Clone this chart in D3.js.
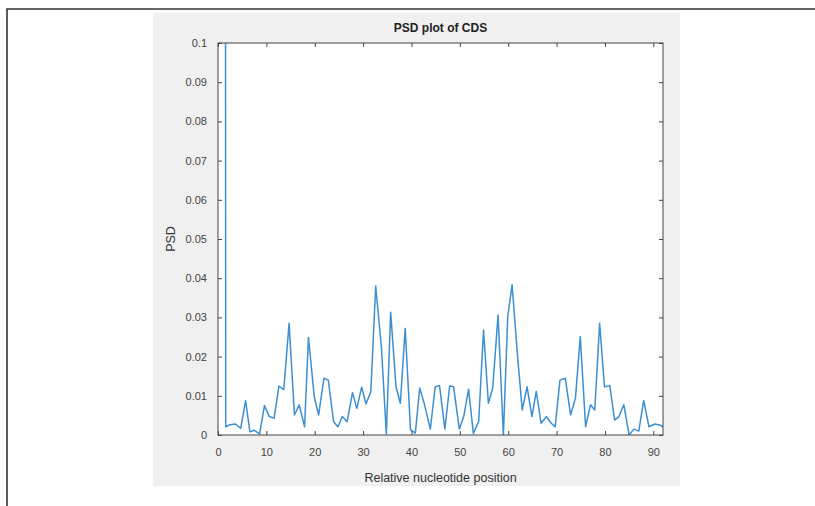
<!DOCTYPE html>
<html>
<head>
<meta charset="utf-8">
<script src="https://cdn.jsdelivr.net/npm/d3@7"></script>
<style>
  body { margin: 0; background: #fff; }
  svg { display: block; font-family: "Liberation Sans", Arial, sans-serif; }
</style>
</head>
<body>
<div id="chart"></div>
<script>
// positions (relative nucleotide position)
const positions = [
  1.4, 1.6, 2.5, 3.6, 4.7, 5.7, 6.6, 7.5, 8.6, 9.6, 10.6, 11.6, 12.6, 13.6, 14.7,
  15.8, 16.8, 17.9, 18.7, 19.9, 20.8, 21.9, 22.8, 23.9, 24.8, 25.7, 26.7, 27.8,
  28.7, 29.7, 30.6, 31.6, 32.6, 33.8, 34.8, 35.7, 36.8, 37.7, 38.7, 39.8, 40.8,
  41.7, 42.6, 43.9, 44.9, 45.8, 46.9, 47.9, 48.7, 49.9, 50.8, 51.8, 52.8, 53.9,
  54.9, 55.9, 56.8, 57.9, 59.0, 59.9, 60.8, 62.0, 62.9, 63.9, 64.9, 65.8, 66.8,
  67.9, 68.9, 69.7, 70.7, 71.8, 72.9, 73.9, 74.9, 76.0, 77.0, 77.9, 78.9, 79.9,
  81.0, 82.0, 82.9, 83.9, 85.0, 86.0, 87.0, 88.0, 89.1, 90.3, 91.5, 92.0
];
// PSD values (first one runs off the top of the axes)
const psd = [
  0.5, 0.0021, 0.0026, 0.0028, 0.0017, 0.0088, 0.0008, 0.0012, 0.0003, 0.0075,
  0.0047, 0.0043, 0.0125, 0.0116, 0.0285, 0.0051, 0.0077, 0.0021, 0.0249, 0.0098,
  0.0051, 0.0145, 0.0140, 0.0034, 0.0021, 0.0047, 0.0034, 0.0108, 0.0068, 0.0122,
  0.0079, 0.0111, 0.0380, 0.0221, 0.0003, 0.0313, 0.0123, 0.0081, 0.0272, 0.0013,
  0.0005, 0.0120, 0.0082, 0.0015, 0.0123, 0.0126, 0.0015, 0.0125, 0.0123, 0.0015,
  0.0047, 0.0117, 0.0004, 0.0035, 0.0268, 0.0081, 0.0120, 0.0306, 0.0000, 0.0302,
  0.0383, 0.0191, 0.0064, 0.0123, 0.0047, 0.0111, 0.0030, 0.0047, 0.0030, 0.0021,
  0.0140, 0.0145, 0.0051, 0.0094, 0.0251, 0.0021, 0.0077, 0.0064, 0.0285, 0.0123,
  0.0126, 0.0038, 0.0047, 0.0077, 0.0000, 0.0015, 0.0010, 0.0088, 0.0021, 0.0028,
  0.0025, 0.0020
];
const xTicks = [0, 10, 20, 30, 40, 50, 60, 70, 80, 90];
const yTicks = [0, 0.01, 0.02, 0.03, 0.04, 0.05, 0.06, 0.07, 0.08, 0.09, 0.1];

const W = 815, H = 506;
const plot = { left: 218, top: 43, right: 663, bottom: 435 };
const axisColor = '#444';

const svg = d3.select('#chart').append('svg')
  .attr('width', W).attr('height', H);

// outer frame lines
svg.append('path')
  .attr('d', 'M7,506 L7,9 L815,9')
  .attr('fill', 'none')
  .attr('stroke', '#333')
  .attr('stroke-width', 1.6);

// figure background
svg.append('rect')
  .attr('x', 153).attr('y', 13)
  .attr('width', 527).attr('height', 473)
  .attr('fill', '#f0f0f0');

// axes background
svg.append('rect')
  .attr('x', plot.left).attr('y', plot.top)
  .attr('width', plot.right - plot.left)
  .attr('height', plot.bottom - plot.top)
  .attr('fill', '#fff');

const x = d3.scaleLinear().domain([0, 92]).range([plot.left, plot.right]);
const y = d3.scaleLinear().domain([0, 0.1]).range([plot.bottom, plot.top]);

svg.append('clipPath').attr('id', 'clip')
  .append('rect')
  .attr('x', plot.left).attr('y', plot.top)
  .attr('width', plot.right - plot.left)
  .attr('height', plot.bottom - plot.top);

const points = positions.map((p, i) => [p, psd[i]]);

svg.append('path')
  .datum(points)
  .attr('clip-path', 'url(#clip)')
  .attr('fill', 'none')
  .attr('stroke', '#3b8fd2')
  .attr('stroke-width', 1.5)
  .attr('stroke-linejoin', 'round')
  .attr('d', d3.line().x(d => x(d[0])).y(d => y(d[1])));

// axes: ticks pointing inwards, box on
const tickLen = 4;
const fmtY = d => d === 0 ? '0' : d3.format('~g')(+d.toFixed(2));

const styleAxis = g => {
  g.select('.domain').remove();
  g.selectAll('.tick line').attr('stroke', axisColor);
  g.selectAll('.tick text')
    .attr('fill', '#444')
    .style('font-size', '11px');
};

svg.append('g')
  .attr('transform', `translate(0,${plot.bottom})`)
  .call(d3.axisBottom(x).tickValues(xTicks).tickSizeInner(-tickLen).tickSizeOuter(0).tickPadding(13))
  .call(styleAxis);

svg.append('g')
  .attr('transform', `translate(0,${plot.top})`)
  .call(d3.axisTop(x).tickValues(xTicks).tickSizeInner(-tickLen).tickSizeOuter(0).tickFormat(''))
  .call(styleAxis);

svg.append('g')
  .attr('transform', `translate(${plot.left},0)`)
  .call(d3.axisLeft(y).tickValues(yTicks).tickSizeInner(-tickLen).tickSizeOuter(0).tickPadding(11).tickFormat(fmtY))
  .call(styleAxis);

svg.append('g')
  .attr('transform', `translate(${plot.right},0)`)
  .call(d3.axisRight(y).tickValues(yTicks).tickSizeInner(-tickLen).tickSizeOuter(0).tickFormat(''))
  .call(styleAxis);

// box
svg.append('rect')
  .attr('x', plot.left).attr('y', plot.top)
  .attr('width', plot.right - plot.left)
  .attr('height', plot.bottom - plot.top)
  .attr('fill', 'none')
  .attr('stroke', axisColor)
  .attr('stroke-width', 1);

// title and labels
svg.append('text')
  .attr('x', (plot.left + plot.right) / 2)
  .attr('y', 32)
  .attr('text-anchor', 'middle')
  .style('font-size', '12px')
  .style('font-weight', 'bold')
  .attr('fill', '#222')
  .text('PSD plot of CDS');

svg.append('text')
  .attr('x', (plot.left + plot.right) / 2)
  .attr('y', 482)
  .attr('text-anchor', 'middle')
  .style('font-size', '12.5px')
  .attr('fill', '#333')
  .text('Relative nucleotide position');

svg.append('text')
  .attr('transform', `translate(175,${(plot.top + plot.bottom) / 2}) rotate(-90)`)
  .attr('text-anchor', 'middle')
  .style('font-size', '12.5px')
  .attr('fill', '#333')
  .text('PSD');
</script>
</body>
</html>
